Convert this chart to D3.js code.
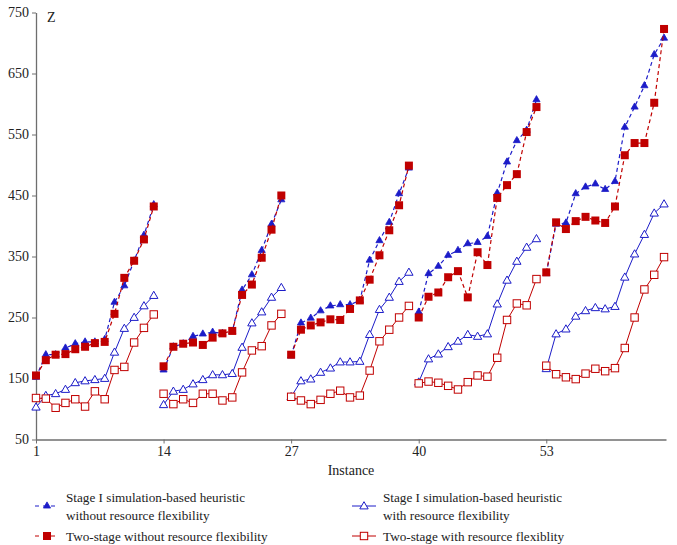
<!DOCTYPE html>
<html>
<head>
<meta charset="utf-8">
<script src="https://cdn.jsdelivr.net/npm/d3@7/dist/d3.min.js"></script>
<style>
  html, body { margin: 0; padding: 0; background: #fff; }
  svg { display: block; }
</style>
</head>
<body>
<svg id="chart" width="677" height="545"></svg>
<script>
// ---- data ----
const instances = d3.range(1, 66);
const groupSize = 13;
const xTicks = [1, 14, 27, 40, 53];
const yTicks = [50, 150, 250, 350, 450, 550, 650, 750];

const stage1NoFlex = [
  152, 189, 189, 200, 207, 210, 210, 214, 275, 302, 343, 385, 435,
  164, 202, 207, 219, 223, 226, 224, 227, 295, 320, 360, 403, 443,
  187, 241, 249, 261, 269, 271, 271, 278, 344, 376, 406, 453, 495,
  259, 322, 334, 352, 360, 371, 373, 383, 454, 505, 540, 557, 607,
  322, 403, 405, 453, 464, 469, 460, 473, 562, 595, 630, 681, 708
];
const twoStageNoFlex = [
  155, 180, 189, 190, 198, 202, 208, 210, 256, 315, 343, 378, 432,
  170, 202, 207, 209, 205, 217, 224, 228, 287, 304, 348, 394, 450,
  189, 230, 237, 242, 247, 246, 264, 278, 312, 352, 393, 434, 499,
  250, 284, 291, 316, 326, 283, 357, 336, 446, 467, 485, 554, 595,
  324, 406, 395, 408, 415, 409, 405, 432, 516, 536, 536, 602, 723
];
const stage1Flex = [
  103, 122, 125, 132, 143, 146, 148, 150, 193, 232, 250, 269, 286,
  107, 129, 132, 141, 148, 156, 156, 158, 201, 241, 259, 283, 299,
  120, 146, 149, 160, 167, 177, 177, 178, 222, 263, 283, 309, 324,
  144, 182, 190, 202, 211, 222, 219, 223, 272, 311, 342, 365, 379,
  166, 223, 231, 252, 261, 266, 264, 268, 316, 354, 386, 421, 436
];
const twoStageFlex = [
  118, 117, 102, 110, 116, 104, 129, 116, 164, 169, 209, 233, 255,
  125, 108, 116, 110, 125, 125, 114, 119, 160, 196, 203, 237, 256,
  120, 114, 108, 115, 125, 130, 119, 122, 163, 211, 230, 250, 269,
  142, 145, 143, 138, 132, 144, 155, 153, 184, 246, 273, 270, 313,
  171, 157, 152, 149, 158, 166, 162, 167, 200, 250, 296, 320, 349
];

const blue = "#1c1cc8";
const red = "#c00000";
const FONT = "Liberation Serif";

const series = [
  { values: stage1Flex, color: blue, dash: null, shape: "triangle", filled: false },
  { values: twoStageFlex, color: red, dash: null, shape: "square", filled: false },
  { values: stage1NoFlex, color: blue, dash: "4,3", shape: "triangle", filled: true },
  { values: twoStageNoFlex, color: red, dash: "4,3", shape: "square", filled: true }
];

// ---- scales ----
const svg = d3.select("#chart");
const x = d3.scaleLinear().domain([1, 65.2]).range([36, 666]);
const y = d3.scaleLinear().domain([50, 750]).range([439.5, 12.5]);

// ---- axes ----
const axisColor = "#6e6e6e";
const gy = svg.append("g").attr("transform", "translate(36,0)")
  .call(d3.axisLeft(y).tickValues(yTicks).tickSize(4).tickSizeOuter(0).tickPadding(3));
const gx = svg.append("g").attr("transform", "translate(0,439.5)")
  .call(d3.axisBottom(x).tickValues(xTicks).tickSize(4).tickSizeOuter(0).tickPadding(3));
[gx, gy].forEach(g => {
  g.attr("font-family", FONT).attr("font-size", 14);
  g.select(".domain").attr("stroke", axisColor).attr("stroke-width", 1.3);
  g.selectAll(".tick line").attr("stroke", axisColor);
  g.selectAll(".tick text").attr("fill", "#222").attr("font-family", FONT);
});

svg.append("text").attr("x", 47).attr("y", 22).text("Z")
  .attr("font-family", FONT).attr("font-size", 14).attr("fill", "#222");
svg.append("text").attr("x", 351).attr("y", 475).attr("text-anchor", "middle")
  .text("Instance").attr("font-family", FONT).attr("font-size", 14).attr("fill", "#222");

// ---- marks ----
const triFilled = d3.symbol().type(d3.symbolTriangle).size(22);
const triOpen = d3.symbol().type(d3.symbolTriangle).size(30);
const line = d3.line().x(d => x(d.i)).y(d => y(d.v));

function drawMarker(g, s, cx, cy) {
  if (s.shape === "triangle") {
    g.append("path").attr("d", s.filled ? triFilled() : triOpen())
      .attr("transform", `translate(${cx},${cy + (s.filled ? 0 : 0.5)})`)
      .attr("fill", s.filled ? s.color : "#fff")
      .attr("stroke", s.color).attr("stroke-width", s.filled ? 0.8 : 1);
  } else {
    const h = s.filled ? 4 : 3.7;
    g.append("rect").attr("x", cx - h).attr("y", cy - h)
      .attr("width", 2 * h).attr("height", 2 * h)
      .attr("fill", s.filled ? s.color : "#fff")
      .attr("stroke", s.color).attr("stroke-width", s.filled ? 0 : 1);
  }
}

series.forEach(s => {
  const pts = s.values.map((v, k) => ({ i: instances[k], v }));
  const g = svg.append("g");
  for (let k = 0; k < pts.length; k += groupSize) {
    g.append("path").datum(pts.slice(k, k + groupSize))
      .attr("d", line).attr("fill", "none")
      .attr("stroke", s.color).attr("stroke-width", s.filled ? 1.2 : 1)
      .attr("stroke-dasharray", s.dash);
  }
  pts.forEach(p => drawMarker(g, s, x(p.i), y(p.v)));
});

// ---- legend ----
const legendItems = [
  { s: series[2], mx: 47, lines: ["Stage I simulation-based heuristic", "without resource flexibility"], ty: 497 },
  { s: series[3], mx: 47, lines: ["Two-stage without resource flexibility"], ty: 536 },
  { s: series[0], mx: 364, lines: ["Stage I simulation-based heuristic", "with resource flexibility"], ty: 497 },
  { s: series[1], mx: 364, lines: ["Two-stage with resource flexiblity"], ty: 536 }
];
const lg = svg.append("g");
legendItems.forEach(it => {
  const my = it.lines.length === 2 ? it.ty + 9 : it.ty;
  lg.append("line").attr("x1", it.mx - 12).attr("x2", it.mx + 12)
    .attr("y1", my).attr("y2", my)
    .attr("stroke", it.s.color).attr("stroke-width", 1)
    .attr("stroke-dasharray", it.s.dash ? "4,4" : null);
  drawMarker(lg, it.s, it.mx, my);
  it.lines.forEach((t, j) => {
    lg.append("text").attr("x", it.mx + 19).attr("y", it.ty + j * 18)
      .attr("dy", "0.35em").text(t)
      .attr("font-family", FONT).attr("font-size", 13.2).attr("fill", "#222");
  });
});
</script>
</body>
</html>
